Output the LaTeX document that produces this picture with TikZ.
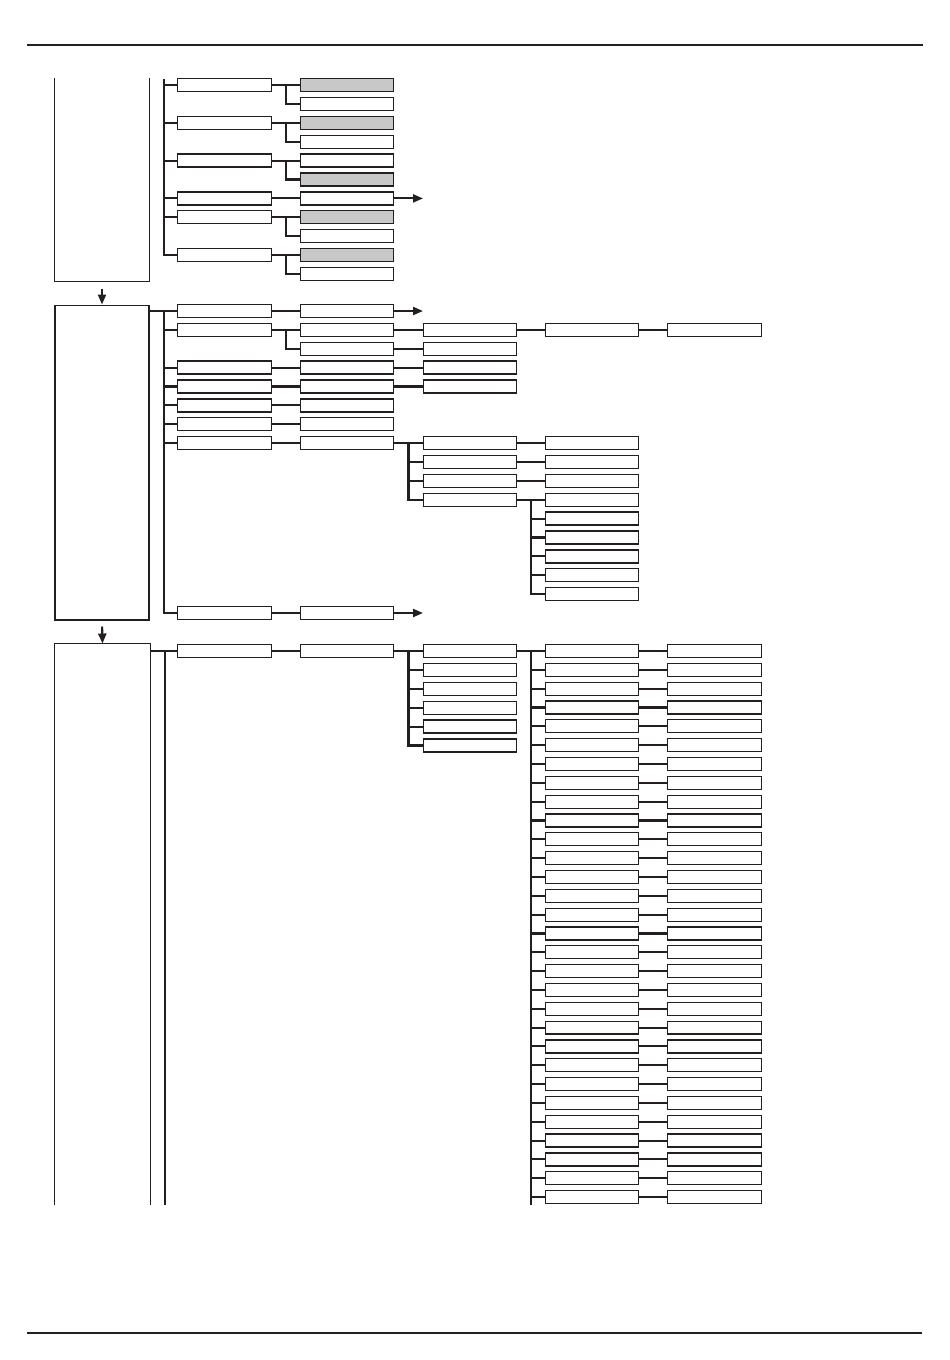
\documentclass[tikz,border=0pt]{standalone}
\usepackage{tikz}
\usetikzlibrary{arrows.meta,calc}

\definecolor{ink}{HTML}{231F20}
\definecolor{boxgrey}{HTML}{C8C8C8}

\begin{document}
\begin{tikzpicture}[
  x=0.02cm, y=-0.02cm,
  box/.style={draw=ink, line width=0.7pt, fill=white, minimum width=1.87cm, minimum height=0.26cm, inner sep=0pt},
  greybox/.style={box, fill=boxgrey},
  stage/.style={draw=ink, line width=0.6pt, inner sep=0pt, minimum width=1.88cm},
  conn/.style={draw=ink, line width=1.2pt},
  arr/.style={conn, -{Triangle[length=0.2cm, width=0.16cm]}},
  rule/.style={draw=ink, line width=1.2pt}
]
\useasboundingbox (0,0) rectangle (950,1360);

% page rules
\draw[rule] (27,45) -- (923,45);
\draw[rule] (27,1333) -- (922,1333);

% stages
\node[stage, draw=none, minimum height=4.04cm] (bA) at (102,180) {};
\draw[ink, line width=0.6pt] (bA.north west) |- (bA.south east) -- (bA.north east);
\node[stage, minimum height=6.3cm] (bB) at (102,462.5) {};
\node[stage, draw=none, minimum width=1.9cm, minimum height=11.22cm] (bC) at (102.5,924.5) {};
\draw[ink, line width=0.6pt] (bC.south west) |- (bC.north east) -- (bC.south east);

\draw[arr, shorten <=0.14cm] (bA.south) -- (bB.north);
\draw[arr, shorten <=0.12cm] (bB.south) -- (bC.north);

% ---- first stage ----
\node[box] (a2a) at (224.5,85) {};
\node[box] (a2b) at (224.5,122.8) {};
\node[box] (a2c) at (224.5,160.6) {};
\node[box] (a2d) at (224.5,198.4) {};
\node[box] (a2e) at (224.5,217.3) {};
\node[box] (a2f) at (224.5,255.1) {};

\node[greybox] (a3a) at (347,85) {};
\node[box] (a3b) at (347,103.9) {};
\node[greybox] (a3c) at (347,122.8) {};
\node[box] (a3d) at (347,141.7) {};
\node[box] (a3e) at (347,160.6) {};
\node[greybox] (a3f) at (347,179.5) {};
\node[box] (a3g) at (347,198.4) {};
\node[greybox] (a3h) at (347,217.3) {};
\node[box] (a3i) at (347,236.2) {};
\node[greybox] (a3j) at (347,255.1) {};
\node[box] (a3k) at (347,274) {};

\coordinate (tA) at (164,79);
\foreach \n in {a2a,a2b,a2c,a2d,a2e,a2f}
  \draw[conn] (tA) |- (\n.west);

\draw[conn] (a2a) -- (a3a);
\draw[conn] ($(a2a.east)!.5!(a3a.west)$) |- (a3b.west);
\draw[conn] (a2b) -- (a3c);
\draw[conn] ($(a2b.east)!.5!(a3c.west)$) |- (a3d.west);
\draw[conn] (a2c) -- (a3e);
\draw[conn] ($(a2c.east)!.5!(a3e.west)$) |- (a3f.west);
\draw[conn] (a2d) -- (a3g);
\draw[conn] (a2e) -- (a3h);
\draw[conn] ($(a2e.east)!.5!(a3h.west)$) |- (a3i.west);
\draw[conn] (a2f) -- (a3j);
\draw[conn] ($(a2f.east)!.5!(a3j.west)$) |- (a3k.west);

\coordinate (oA) at (423,198.4);
\draw[arr] (a3g) -- (oA);

% ---- second stage ----
\node[box] (b2a) at (224.5,311) {};
\node[box] (b2b) at (224.5,329.9) {};
\node[box] (b2c) at (224.5,367.6) {};
\node[box] (b2d) at (224.5,386.5) {};
\node[box] (b2e) at (224.5,405.4) {};
\node[box] (b2f) at (224.5,424.3) {};
\node[box] (b2g) at (224.5,443.1) {};
\node[box] (b2h) at (224.5,613) {};

\node[box] (b3a) at (347,311) {};
\node[box] (b3b) at (347,329.9) {};
\node[box] (b3c) at (347,348.8) {};
\node[box] (b3d) at (347,367.6) {};
\node[box] (b3e) at (347,386.5) {};
\node[box] (b3f) at (347,405.4) {};
\node[box] (b3g) at (347,424.3) {};
\node[box] (b3h) at (347,443.1) {};
\node[box] (b3i) at (347,613) {};

\node[box] (b4a) at (470,329.9) {};
\node[box] (b4b) at (470,348.8) {};
\node[box] (b4c) at (470,367.6) {};
\node[box] (b4d) at (470,386.5) {};
\node[box] (b4e) at (470,443.1) {};
\node[box] (b4f) at (470,462) {};
\node[box] (b4g) at (470,480.9) {};
\node[box] (b4h) at (470,499.8) {};

\node[box] (b5a) at (592,329.9) {};
\node[box] (b5b) at (592,443.1) {};
\node[box] (b5c) at (592,462) {};
\node[box] (b5d) at (592,480.9) {};
\node[box] (b5e) at (592,499.8) {};
\node[box] (b5f) at (592,518.6) {};
\node[box] (b5g) at (592,537.5) {};
\node[box] (b5h) at (592,556.4) {};
\node[box] (b5i) at (592,575.3) {};
\node[box] (b5j) at (592,594.1) {};

\node[box] (b6a) at (714.5,329.9) {};

\draw[conn] (bB.north east |- b2a.west) -- (b2a.west);
\coordinate (tB) at (164,311);
\foreach \n in {b2b,b2c,b2d,b2e,b2f,b2g,b2h}
  \draw[conn] (tB) |- (\n.west);

\draw[conn] (b2a) -- (b3a);
\draw[conn] (b2b) -- (b3b);
\draw[conn] ($(b2b.east)!.5!(b3b.west)$) |- (b3c.west);
\draw[conn] (b2c) -- (b3d);
\draw[conn] (b2d) -- (b3e);
\draw[conn] (b2e) -- (b3f);
\draw[conn] (b2f) -- (b3g);
\draw[conn] (b2g) -- (b3h);
\draw[conn] (b2h) -- (b3i);

\draw[conn] (b3b) -- (b4a);
\draw[conn] (b3c) -- (b4b);
\draw[conn] (b3d) -- (b4c);
\draw[conn] (b3e) -- (b4d);
\draw[conn] (b3h) -- (b4e);
\coordinate (busB4) at ($(b3h.east)!.5!(b4e.west)$);
\foreach \n in {b4f,b4g,b4h}
  \draw[conn] (busB4) |- (\n.west);

\draw[conn] (b4a) -- (b5a);
\draw[conn] (b5a) -- (b6a);
\draw[conn] (b4e) -- (b5b);
\draw[conn] (b4f) -- (b5c);
\draw[conn] (b4g) -- (b5d);
\draw[conn] (b4h) -- (b5e);
\coordinate (busB5) at ($(b4h.east)!.5!(b5e.west)$);
\foreach \n in {b5f,b5g,b5h,b5i,b5j}
  \draw[conn] (busB5) |- (\n.west);

\coordinate (oB1) at (423,311);
\coordinate (oB2) at (423,613);
\draw[arr] (b3a) -- (oB1);
\draw[arr] (b3i) -- (oB2);

% ---- third stage ----
\node[box] (c2) at (224.5,651) {};
\node[box] (c3) at (347,651) {};
\foreach \i in {0,...,5}
  \node[box] (c4-\i) at (470,{651+18.9*\i}) {};
\foreach \i in {0,...,29} {
  \node[box] (c5-\i) at (592,{651+18.83*\i}) {};
  \node[box] (c6-\i) at (714.5,{651+18.83*\i}) {};
  \draw[conn] (c5-\i) -- (c6-\i);
}

\draw[conn] (bC.north east |- c2.west) -- (c2.west);
\coordinate (tC) at (165,651);
\draw[conn] (tC) -- (tC |- bC.south);
\draw[conn] (c2) -- (c3);
\draw[conn] (c3) -- (c4-0);
\coordinate (busC4) at ($(c3.east)!.5!(c4-0.west)$);
\foreach \i in {1,...,5}
  \draw[conn] (busC4) |- (c4-\i.west);

\draw[conn] (c4-0) -- (c5-0);
\coordinate (busC5) at ($(c4-0.east)!.5!(c5-0.west)$);
\draw[conn] (busC5) -- (busC5 |- bC.south);
\foreach \i in {1,...,29}
  \draw[conn] (busC5 |- c5-\i.west) -- (c5-\i.west);

\end{tikzpicture}
\end{document}
